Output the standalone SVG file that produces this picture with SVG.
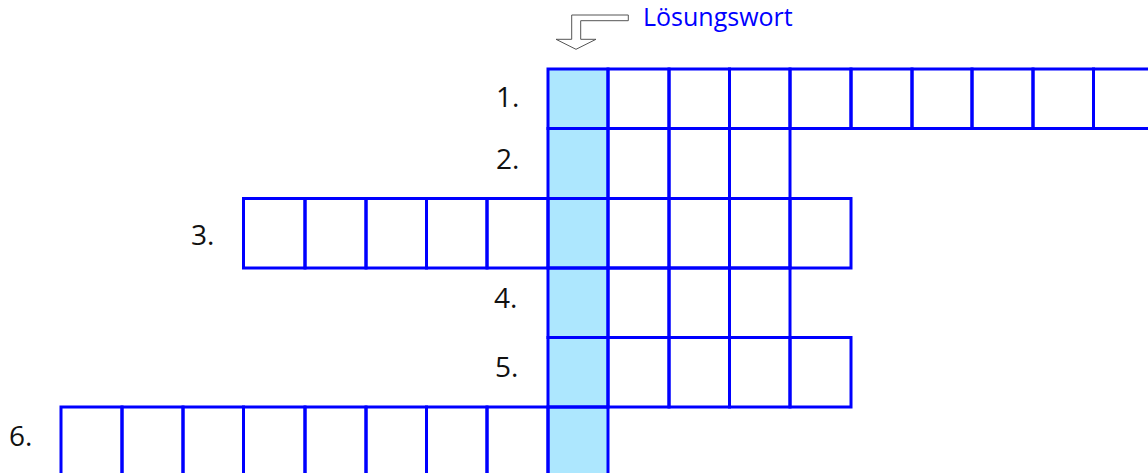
<svg xmlns="http://www.w3.org/2000/svg" width="1148" height="473" viewBox="0 0 1148 473">
<style>
.cell{fill:none;stroke:#0000ff;stroke-width:3}
.sol{fill:#ade7fe;stroke:none}
.num{font-family:"Open Sans","Liberation Sans",sans-serif;font-size:28px;fill:#111}
.title{font-family:"Open Sans","Liberation Sans",sans-serif;font-size:25px;fill:#0000ff}
.arrow{fill:#fff;stroke:#555;stroke-width:1}
</style>
<rect width="1148" height="473" fill="#fff"/>
<g id="solution-column">
<rect class="sol" x="548" y="69" width="60" height="410"/>
</g>
<g id="solution-label">
<polygon class="arrow" points="628.3,15 571.7,15 571.7,39.3 556,39.3 576,49.3 596,39.3 580.7,39.3 580.7,20.7 628.3,20.7"/>
<text class="title" x="643" y="26">Lösungswort</text>
</g>
<g id="row1">
<text class="num" x="496" y="107">1.</text>
<rect class="cell" x="548" y="69" width="60" height="59.5"/>
<rect class="cell" x="608" y="69" width="61" height="59.5"/>
<rect class="cell" x="669" y="69" width="60.5" height="59.5"/>
<rect class="cell" x="729.5" y="69" width="60.5" height="59.5"/>
<rect class="cell" x="790" y="69" width="61" height="59.5"/>
<rect class="cell" x="851" y="69" width="61" height="59.5"/>
<rect class="cell" x="912" y="69" width="60" height="59.5"/>
<rect class="cell" x="972" y="69" width="61" height="59.5"/>
<rect class="cell" x="1033" y="69" width="60.5" height="59.5"/>
<rect class="cell" x="1093.5" y="69" width="60.5" height="59.5"/>
</g>
<g id="row2">
<text class="num" x="496" y="169">2.</text>
<rect class="cell" x="548" y="128.5" width="60" height="70"/>
<rect class="cell" x="608" y="128.5" width="61" height="70"/>
<rect class="cell" x="669" y="128.5" width="60.5" height="70"/>
<rect class="cell" x="729.5" y="128.5" width="60.5" height="70"/>
</g>
<g id="row3">
<text class="num" x="191" y="245">3.</text>
<rect class="cell" x="243.5" y="198.5" width="61.5" height="69.5"/>
<rect class="cell" x="305" y="198.5" width="61" height="69.5"/>
<rect class="cell" x="366" y="198.5" width="60.5" height="69.5"/>
<rect class="cell" x="426.5" y="198.5" width="60.5" height="69.5"/>
<rect class="cell" x="487" y="198.5" width="61" height="69.5"/>
<rect class="cell" x="548" y="198.5" width="60" height="69.5"/>
<rect class="cell" x="608" y="198.5" width="61" height="69.5"/>
<rect class="cell" x="669" y="198.5" width="60.5" height="69.5"/>
<rect class="cell" x="729.5" y="198.5" width="60.5" height="69.5"/>
<rect class="cell" x="790" y="198.5" width="61" height="69.5"/>
</g>
<g id="row4">
<text class="num" x="494" y="308">4.</text>
<rect class="cell" x="548" y="268" width="60" height="69.5"/>
<rect class="cell" x="608" y="268" width="61" height="69.5"/>
<rect class="cell" x="669" y="268" width="60.5" height="69.5"/>
<rect class="cell" x="729.5" y="268" width="60.5" height="69.5"/>
</g>
<g id="row5">
<text class="num" x="495" y="377">5.</text>
<rect class="cell" x="548" y="337.5" width="60" height="69.5"/>
<rect class="cell" x="608" y="337.5" width="61" height="69.5"/>
<rect class="cell" x="669" y="337.5" width="60.5" height="69.5"/>
<rect class="cell" x="729.5" y="337.5" width="60.5" height="69.5"/>
<rect class="cell" x="790" y="337.5" width="61" height="69.5"/>
</g>
<g id="row6">
<text class="num" x="9" y="446">6.</text>
<rect class="cell" x="61" y="407" width="61" height="75"/>
<rect class="cell" x="122" y="407" width="61" height="75"/>
<rect class="cell" x="183" y="407" width="60.5" height="75"/>
<rect class="cell" x="243.5" y="407" width="61.5" height="75"/>
<rect class="cell" x="305" y="407" width="61" height="75"/>
<rect class="cell" x="366" y="407" width="60.5" height="75"/>
<rect class="cell" x="426.5" y="407" width="60.5" height="75"/>
<rect class="cell" x="487" y="407" width="61" height="75"/>
<rect class="cell" x="548" y="407" width="60" height="75"/>
</g>
<g id="connectors"></g>
</svg>
